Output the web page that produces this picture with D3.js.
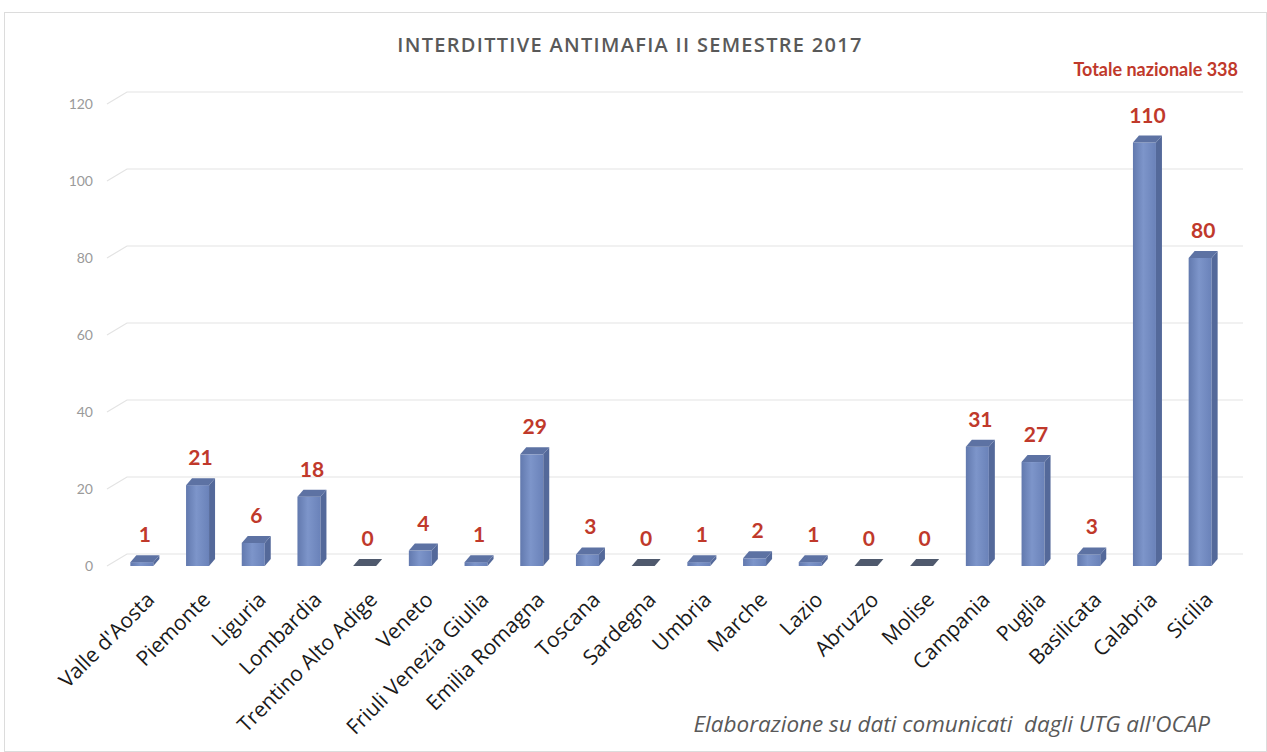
<!DOCTYPE html>
<html>
<head>
<meta charset="utf-8">
<script src="https://cdn.jsdelivr.net/npm/d3@7"></script>
<style>
  body { margin: 0; background: #fff; }
  svg { display: block; font-family: Lato, 'Open Sans', sans-serif; }
</style>
</head>
<body>
<div id="chart"></div>
<script>
const REGIONS = ["Valle d'Aosta", 'Piemonte', 'Liguria', 'Lombardia', 'Trentino Alto Adige', 'Veneto',
  'Friuli Venezia Giulia', 'Emilia Romagna', 'Toscana', 'Sardegna', 'Umbria', 'Marche', 'Lazio',
  'Abruzzo', 'Molise', 'Campania', 'Puglia', 'Basilicata', 'Calabria', 'Sicilia']
const VALUES = [1, 21, 6, 18, 0, 4, 1, 29, 3, 0, 1, 2, 1, 0, 0, 31, 27, 3, 110, 80]
const Y_TICKS = [0, 20, 40, 60, 80, 100, 120]

const TITLE = 'INTERDITTIVE ANTIMAFIA II SEMESTRE 2017'
const TOTAL_LABEL = 'Totale nazionale 338'
const SOURCE = "Elaborazione su dati comunicati\u00a0 dagli UTG all'OCAP"

const WIDTH = 1267, HEIGHT = 752
const BAR_DX = 6, BAR_DY = 7        // bar depth
const WALL_DY = 12                  // back wall offset
const RED = '#c0392b'

let data = REGIONS.map((name, i) => ({ name: name, value: VALUES[i] }))

let svg = d3.select('#chart').append('svg')
  .attr('width', WIDTH)
  .attr('height', HEIGHT)

let defs = svg.append('defs')
let grad = defs.append('linearGradient').attr('id', 'front')
grad.append('stop').attr('offset', '0%').attr('stop-color', '#6279ae')
grad.append('stop').attr('offset', '45%').attr('stop-color', '#7d95ca')
grad.append('stop').attr('offset', '100%').attr('stop-color', '#6a82b9')

// frame
svg.append('rect')
  .attr('x', 4.5).attr('y', 12.5)
  .attr('width', WIDTH - 5).attr('height', HEIGHT - 13)
  .attr('fill', 'none')
  .attr('stroke', '#dcdcdc')

let x = d3.scaleBand()
  .domain(REGIONS)
  .range([114, 1228])
  .paddingInner(0.587)
  .paddingOuter(0.2935)

let y = d3.scaleLinear()
  .domain([0, 120])
  .range([566, 104])

// gridlines on back wall
let grid = svg.append('g').attr('class', 'grid')
let gx0 = 107, gx1 = 127, gx2 = 1243
grid.selectAll('path')
  .data(Y_TICKS)
  .enter().append('path')
    .attr('d', (v) => 'M' + gx0 + ',' + y(v) + 'L' + gx1 + ',' + (y(v) - WALL_DY) + 'H' + gx2)
    .attr('fill', 'none')
    .attr('stroke', '#e3e3e3')
    .attr('stroke-width', 1.2)

// y axis labels
svg.append('g').attr('class', 'y-labels')
  .selectAll('text')
  .data(Y_TICKS)
  .enter().append('text')
    .attr('x', 93)
    .attr('y', (v) => y(v) + 5)
    .attr('text-anchor', 'end')
    .attr('fill', '#9a9a9a')
    .attr('font-size', 14)
    .text((v) => v)

// bars
let bars = svg.append('g').attr('class', 'bars')
  .selectAll('.bar')
  .data(data)
  .enter().append('g')
    .attr('class', 'bar')

bars.filter((d) => d.value > 0).append('rect')
  .attr('x', (d) => x(d.name))
  .attr('y', (d) => y(d.value))
  .attr('width', x.bandwidth())
  .attr('height', (d) => y(0) - y(d.value))
  .attr('fill', 'url(#front)')

bars.filter((d) => d.value > 0).append('path')
  .attr('d', (d) => {
    let x1 = x(d.name) + x.bandwidth()
    return 'M' + x1 + ',' + y(d.value) + 'l' + BAR_DX + ',' + (-BAR_DY) +
      'V' + (y(0) - BAR_DY) + 'l' + (-BAR_DX) + ',' + BAR_DY + 'Z'
  })
  .attr('fill', '#54699a')

bars.append('path')
  .attr('d', (d) => {
    let x0 = x(d.name), yy = y(d.value)
    return 'M' + x0 + ',' + yy + 'l' + BAR_DX + ',' + (-BAR_DY) +
      'h' + x.bandwidth() + 'l' + (-BAR_DX) + ',' + BAR_DY + 'Z'
  })
  .attr('fill', (d) => d.value > 0 ? '#5d72a3' : '#4f596d')

// value labels
bars.append('text')
  .attr('x', (d) => x(d.name) + (x.bandwidth() + BAR_DX) / 2)
  .attr('y', (d) => y(d.value) - BAR_DY - 13)
  .attr('text-anchor', 'middle')
  .attr('fill', RED)
  .attr('font-size', 21)
  .attr('font-weight', 'bold')
  .text((d) => d.value)

// category labels
svg.append('g').attr('class', 'x-labels')
  .selectAll('text')
  .data(REGIONS)
  .enter().append('text')
    .attr('transform', (d) => 'translate(' + (x(d) + x.bandwidth() / 2 + 14) + ',601) rotate(-45)')
    .attr('text-anchor', 'end')
    .attr('fill', '#1a1a1a')
    .attr('font-family', "'Open Sans', sans-serif")
    .attr('font-size', 21)
    .text((d) => d)

// titles
svg.append('text')
  .attr('x', 630)
  .attr('y', 52)
  .attr('text-anchor', 'middle')
  .attr('fill', '#595959')
  .attr('font-family', "'Open Sans', sans-serif")
  .attr('font-size', 20)
  .attr('font-weight', 600)
  .attr('letter-spacing', 1.3)
  .text(TITLE)

svg.append('text')
  .attr('x', 1238)
  .attr('y', 76)
  .attr('text-anchor', 'end')
  .attr('fill', RED)
  .attr('font-size', 18)
  .attr('font-weight', 'bold')
  .text(TOTAL_LABEL)

svg.append('text')
  .attr('x', 1210)
  .attr('y', 732)
  .attr('text-anchor', 'end')
  .attr('fill', '#595959')
  .attr('font-family', "'Open Sans', sans-serif")
  .attr('font-size', 22.5)
  .attr('font-style', 'italic')
  .text(SOURCE)
</script>
</body>
</html>
